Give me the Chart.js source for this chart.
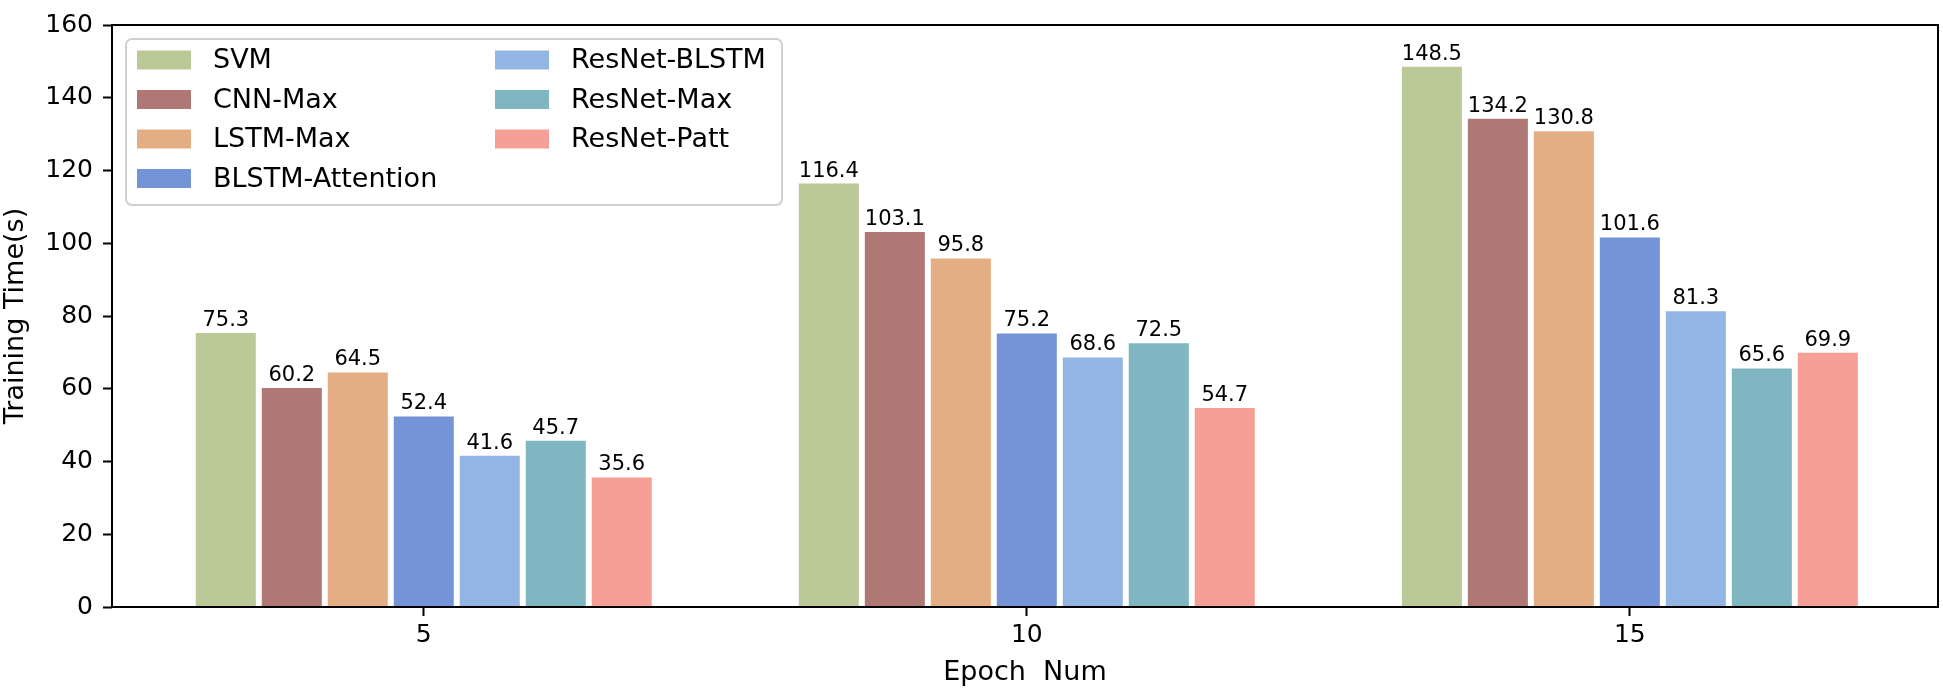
<!DOCTYPE html>
<html>
<head>
<meta charset="utf-8">
<script src="https://cdn.jsdelivr.net/npm/chart.js@4/dist/chart.umd.min.js"></script>
<style>
    body { margin: 0; background: #fff; }
    #wrap { width: 1943px; height: 691px; position: relative; }
</style>
</head>
<body>
<div id="wrap"><canvas id="barChart"></canvas></div>
<script>
const epochs = ['5', '10', '15'];
const methods = ['SVM', 'CNN-Max', 'LSTM-Max', 'BLSTM-Attention', 'ResNet-BLSTM', 'ResNet-Max', 'ResNet-Patt'];
const svm = [75.3, 116.4, 148.5];
const cnnMax = [60.2, 103.1, 134.2];
const lstmMax = [64.5, 95.8, 130.8];
const blstmAtt = [52.4, 75.2, 101.6];
const resBlstm = [41.6, 68.6, 81.3];
const resMax = [45.7, 72.5, 65.6];
const resPatt = [35.6, 54.7, 69.9];
const yTicks = [0, 20, 40, 60, 80, 100, 120, 140, 160];

const colors = ['#bbc897', '#b07875', '#e4ae85', '#7594d8', '#92b5e3', '#80b6c2', '#f59f97'];
const series = [svm, cnnMax, lstmMax, blstmAtt, resBlstm, resMax, resPatt];

const FONT = 'DejaVu Sans';

// value above each bar
const valueLabels = {
    id: 'valueLabels',
    afterDatasetsDraw(chart) {
        const ctx = chart.ctx;
        ctx.save();
        ctx.font = '21px ' + FONT;
        ctx.fillStyle = '#000';
        ctx.textAlign = 'center';
        ctx.textBaseline = 'bottom';
        chart.data.datasets.forEach((ds, i) => {
            chart.getDatasetMeta(i).data.forEach((bar, j) => {
                ctx.fillText(ds.data[j].y.toFixed(1), bar.x, bar.y - 2);
            });
        });
        ctx.restore();
    }
};

// full box around the plot + legend in two columns
const frameAndLegend = {
    id: 'frameAndLegend',
    afterDraw(chart) {
        const ctx = chart.ctx;
        const a = chart.chartArea;
        ctx.save();
        ctx.strokeStyle = '#000';
        ctx.lineWidth = 2;
        ctx.strokeRect(a.left, a.top, a.right - a.left, a.bottom - a.top);

        const bx = a.left + 14, by = a.top + 14, bw = 656, bh = 166;
        ctx.beginPath();
        ctx.roundRect(bx, by, bw, bh, 6);
        ctx.fillStyle = 'rgba(255,255,255,0.85)';
        ctx.fill();
        ctx.strokeStyle = '#d0d0d0';
        ctx.lineWidth = 2;
        ctx.stroke();

        ctx.font = '27px ' + FONT;
        ctx.textBaseline = 'middle';
        ctx.textAlign = 'left';
        chart.data.datasets.forEach((ds, i) => {
            const col = i < 4 ? 0 : 1;
            const row = i < 4 ? i : i - 4;
            const x = bx + 11 + col * 358;
            const y = by + 21 + row * 39.5;
            ctx.fillStyle = ds.backgroundColor;
            ctx.fillRect(x, y - 9.5, 54, 19);
            ctx.fillStyle = '#000';
            ctx.fillText(ds.label, x + 76, y + 1);
        });
        ctx.restore();
    }
};

const ctx = document.getElementById('barChart');

const data = {
    datasets: methods.map((m, i) => ({
        label: m,
        data: series[i].map((v, j) => ({ x: j, y: v })),
        backgroundColor: colors[i],
        borderWidth: 0,
        categoryPercentage: 0.766,
        barPercentage: 0.91
    }))
};

const config = {
    type: 'bar',
    data: data,
    options: {
        responsive: true,
        maintainAspectRatio: false,
        animation: false,
        layout: { padding: { top: 14, right: 5, left: 0, bottom: 0 } },
        plugins: {
            legend: { display: false },
            tooltip: { enabled: false }
        },
        scales: {
            x: {
                type: 'linear',
                min: -0.517,
                max: 2.511,
                offset: false,
                afterBuildTicks(scale) { scale.ticks = epochs.map((e, j) => ({ value: j })); },
                grid: { offset: false, drawOnChartArea: false, drawTicks: true, tickLength: 9, tickColor: '#000', tickWidth: 2 },
                border: { display: false },
                ticks: { color: '#000', font: { family: FONT, size: 25 }, padding: 4, callback: (v) => epochs[v] },
                title: { display: true, text: 'Epoch  Num', color: '#000', font: { family: FONT, size: 27 }, padding: { top: 0, bottom: 2 } },
                afterFit(scale) { scale.height = 84; }
            },
            y: {
                min: 0,
                max: 160,
                afterBuildTicks(scale) { scale.ticks = yTicks.map(v => ({ value: v })); },
                grid: { drawOnChartArea: false, drawTicks: true, tickLength: 9, tickColor: '#000', tickWidth: 2 },
                border: { display: false },
                ticks: { color: '#000', font: { family: FONT, size: 25 }, padding: 10 },
                title: { display: true, text: 'Training Time(s)', color: '#000', font: { family: FONT, size: 27 }, padding: { top: 0, bottom: 0 } },
                afterFit(scale) { scale.width = 112; }
            }
        }
    },
    plugins: [valueLabels, frameAndLegend]
};

const myChart = new Chart(ctx, config);
</script>
</body>
</html>
